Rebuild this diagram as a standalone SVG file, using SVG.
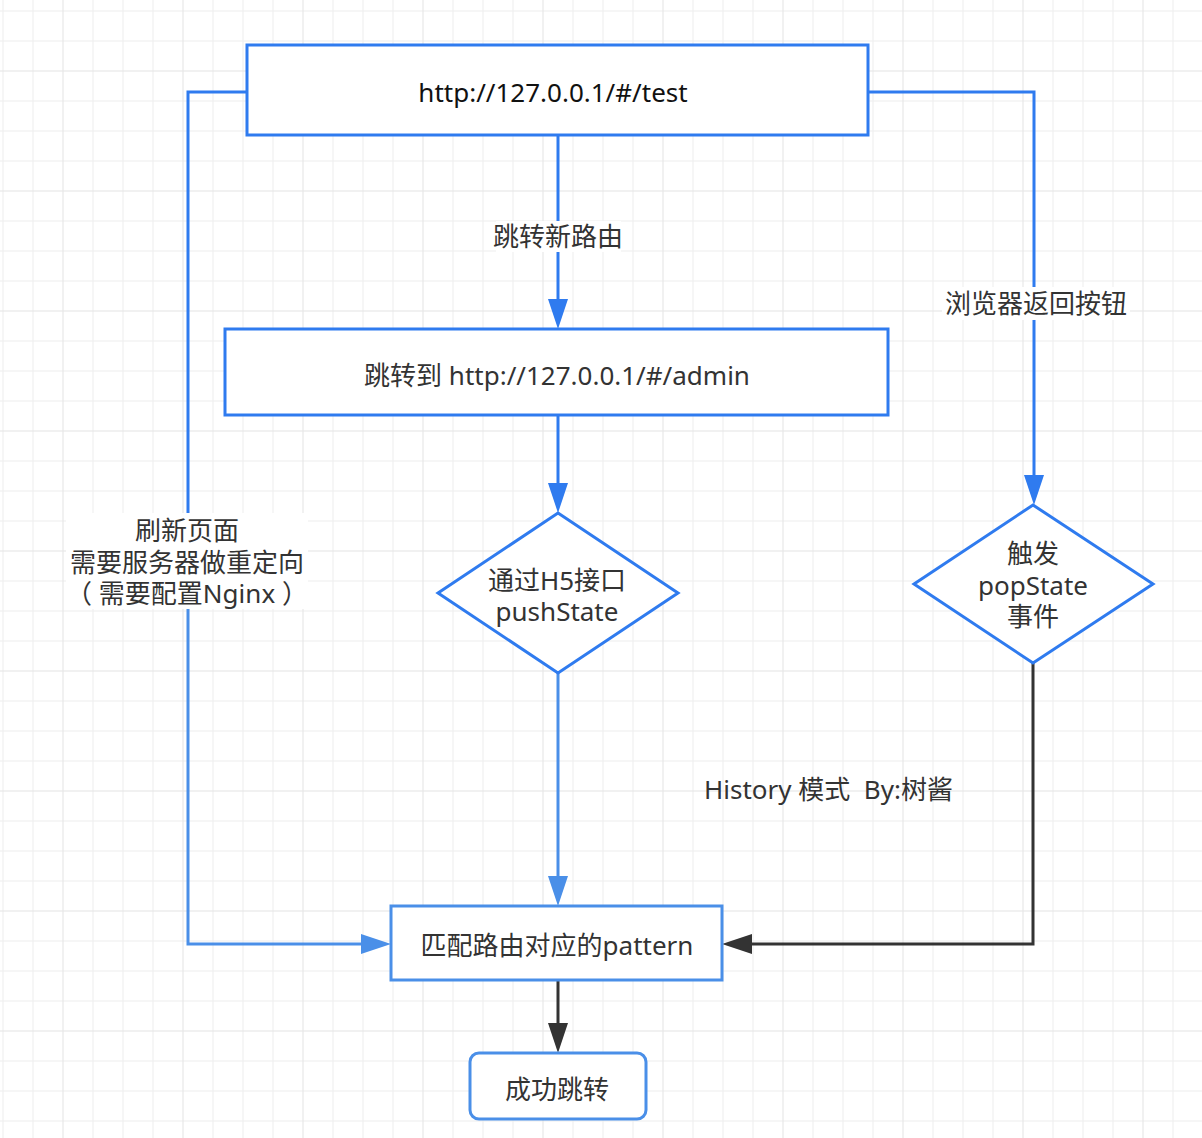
<svg xmlns="http://www.w3.org/2000/svg" width="1202" height="1138" viewBox="0 0 1202 1138">
<style>
  .t { font-family: "Noto Sans", "Noto Sans CJK SC", sans-serif; font-size: 26px; fill: #333; text-anchor: middle; dominant-baseline: central; }
  .box { fill: #fff; stroke: #2f7bef; stroke-width: 3; }
  .box2 { fill: #fff; stroke: #4a8fe8; stroke-width: 3; }
  .c { fill: none; stroke: #2f7bef; stroke-width: 3; }
  .cl { fill: none; stroke: #4a8fe8; stroke-width: 3; }
  .cd { fill: none; stroke: #333; stroke-width: 3; }
  .lbg { fill: #fff; }
</style>
<defs>
  <pattern id="grid" patternUnits="userSpaceOnUse" x="2" y="10" width="120" height="120">
    <rect x="0.4" y="0" width="1.2" height="120" fill="#f0f0f0"/>
    <rect x="30.4" y="0" width="1.2" height="120" fill="#f0f0f0"/>
    <rect x="90.4" y="0" width="1.2" height="120" fill="#f0f0f0"/>
    <rect x="0" y="0.4" width="120" height="1.2" fill="#f0f0f0"/>
    <rect x="0" y="30.4" width="120" height="1.2" fill="#f0f0f0"/>
    <rect x="0" y="90.4" width="120" height="1.2" fill="#f0f0f0"/>
    <rect x="60.4" y="0" width="1.2" height="120" fill="#e8e8e8"/>
    <rect x="0" y="60.4" width="120" height="1.2" fill="#e8e8e8"/>
  </pattern>
  <marker id="ab" viewBox="0 0 30 20" refX="20" refY="10" markerWidth="30" markerHeight="20" markerUnits="userSpaceOnUse" orient="auto">
    <path d="M0,0 L30,10 L0,20 z" fill="#2f7bef"/>
  </marker>
  <marker id="al" viewBox="0 0 30 20" refX="20" refY="10" markerWidth="30" markerHeight="20" markerUnits="userSpaceOnUse" orient="auto">
    <path d="M0,0 L30,10 L0,20 z" fill="#4a8fe8"/>
  </marker>
  <marker id="ad" viewBox="0 0 30 20" refX="20" refY="10" markerWidth="30" markerHeight="20" markerUnits="userSpaceOnUse" orient="auto">
    <path d="M0,0 L30,10 L0,20 z" fill="#333"/>
  </marker>
</defs>
<rect x="0" y="0" width="1202" height="1138" fill="#fff"/>
<rect x="0" y="0" width="1202" height="1138" fill="url(#grid)"/>

<g id="connectors">
  <path class="c" d="M247,92 H188 V520"/>
  <path class="cl" d="M188,520 V944 H381" marker-end="url(#al)"/>
  <path class="c" d="M868,92 H1034 V495" marker-end="url(#ab)"/>
  <path class="c" d="M558,135 V319" marker-end="url(#ab)"/>
  <path class="c" d="M558,415 V503" marker-end="url(#ab)"/>
  <path class="cl" d="M558,673 V896" marker-end="url(#al)"/>
  <path class="cd" d="M1033,663 V944 H732" marker-end="url(#ad)"/>
  <path class="cd" d="M558,980 V1043" marker-end="url(#ad)"/>
  <g id="label-jump">
    <rect class="lbg" x="496" y="221" width="125" height="31"/>
    <text class="t" x="558" y="236">跳转新路由</text>
  </g>
  <g id="label-back">
    <rect class="lbg" x="942" y="287" width="188" height="33"/>
    <text class="t" x="1036" y="303">浏览器返回按钮</text>
  </g>
  <g id="label-refresh">
    <rect class="lbg" x="66" y="513" width="242" height="96"/>
    <text class="t" x="187" y="530">刷新页面</text>
    <text class="t" x="187" y="562">需要服务器做重定向</text>
    <text class="t" x="187" y="593">（ 需要配置Nginx ）</text>
  </g>
</g>

<g id="n-test">
  <rect class="box" x="247" y="45" width="621" height="90"/>
  <text class="t" x="553" y="92" style="fill:#111">http://127.0.0.1/#/test</text>
</g>
<g id="n-admin">
  <rect class="box" x="225" y="329" width="663" height="86"/>
  <text class="t" x="557" y="375">跳转到 http://127.0.0.1/#/admin</text>
</g>
<g id="n-push">
  <polygon class="box" points="558,513 678,593 558,673 438,593"/>
  <text class="t" x="557" y="580">通过H5接口</text>
  <text class="t" x="557" y="611">pushState</text>
</g>
<g id="n-pop">
  <polygon class="box" points="1033,505 1153,584 1033,663 914,584"/>
  <text class="t" x="1033" y="553">触发</text>
  <text class="t" x="1033" y="585">popState</text>
  <text class="t" x="1033" y="616">事件</text>
</g>
<g id="n-match">
  <rect class="box2" x="391" y="906" width="331" height="74"/>
  <text class="t" x="557" y="945">匹配路由对应的pattern</text>
</g>
<g id="n-success">
  <rect class="box2" x="470" y="1053" width="176" height="66" rx="9"/>
  <text class="t" x="557" y="1089">成功跳转</text>
</g>
<g id="note">
  <text class="t" x="704" y="789" style="text-anchor:start;white-space:pre">History 模式  By:树酱</text>
</g>
</svg>
